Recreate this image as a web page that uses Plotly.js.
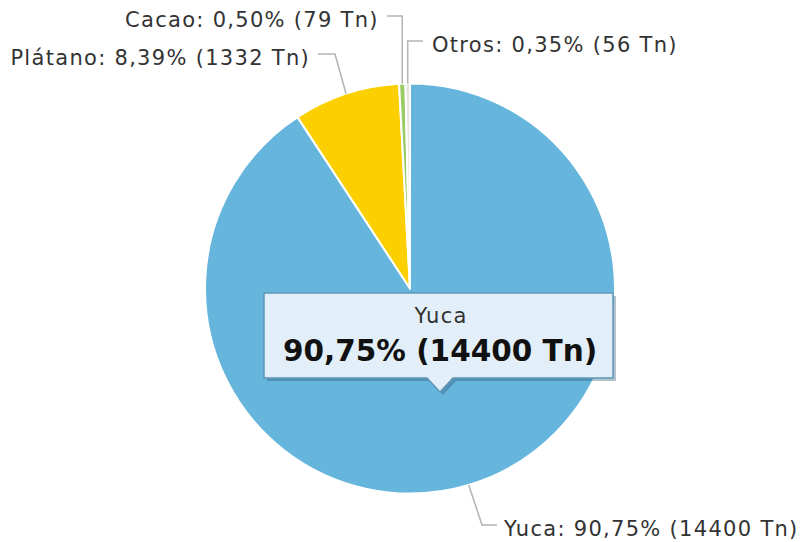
<!DOCTYPE html>
<html>
<head>
<meta charset="utf-8">
<script src="https://cdn.plot.ly/plotly-3.0.1.min.js"></script>
<style>
html,body{margin:0;padding:0;background:#fff;}
#chart{width:800px;height:542px;}
.annotation[data-index="0"] text, .annotation[data-index="1"] text,
.annotation[data-index="2"] text, .annotation[data-index="3"] text,
.annotation[data-index="4"] text { letter-spacing: 1.3px; }
</style>
</head>
<body>
<div id="chart"></div>
<script>
// ---- data ----
const categories = ["Yuca", "Plátano", "Cacao", "Otros"];
const values = [14400, 1332, 79, 56];
const unit = "Tn";
const sliceColors = ["#66b5dc", "#fcd000", "#99cc66", "#e4e4e4"];
const tooltipCategory = "Yuca";

// ---- layout helpers ----
const W = 800, H = 542;
const CX = 410, CY = 288.5, R = 205;
const px = x => x / W;
const py = y => 1 - y / H;
const FONT = 'DejaVu Sans, Verdana, sans-serif';

const total = values.reduce((a, b) => a + b, 0);
const pctText = v => (v / total * 100).toFixed(2).replace('.', ',') + '%';
const labelText = i => categories[i] + ': ' + pctText(values[i]) + ' (' + values[i] + ' ' + unit + ')';

// anchor point on pie edge at the slice mid-angle (clockwise from top)
let cum = 0;
const anchors = values.map(v => {
  const mid = (cum + v / 2) / total * 2 * Math.PI;
  cum += v;
  return [CX + R * Math.sin(mid), CY - R * Math.cos(mid)];
});

// label placement: elbow, line end, text position, anchor side
const placement = [
  {elbow: [482, 525], end: [497, 525], tx: 516, ty: 529, side: 'left'},
  {elbow: [335, 54], end: [318, 54], tx: 296, ty: 58, side: 'right'},
  {elbow: null, endY: 16, end: [387, 16], tx: 368, ty: 20, side: 'right'},
  {elbow: null, endY: 41, end: [423, 41], tx: 443, ty: 45, side: 'left'}
];

const shapes = [];
const annotations = [];
placement.forEach((p, i) => {
  const a = anchors[i];
  const el = p.elbow ? p.elbow : [a[0], p.endY];
  const path = 'M' + px(a[0]) + ',' + py(a[1]) + ' L' + px(el[0]) + ',' + py(el[1]) + ' L' + px(p.end[0]) + ',' + py(p.end[1]);
  shapes.push({type: 'path', xref: 'paper', yref: 'paper', path: path,
    line: {color: '#b4b4b4', width: 1.5}});
  annotations.push({xref: 'paper', yref: 'paper', x: px(p.tx), y: py(p.ty),
    xanchor: p.side, yanchor: 'middle', showarrow: false, text: labelText(i),
    font: {family: FONT, size: 21, color: '#333333'}});
});

// tooltip box with pointer
const bx0 = 264, bx1 = 613, by0 = 293, by1 = 378, tipX = 440, tipY = 392, tipW = 13;
function boxPath(dx, dy) {
  const pts = [[bx0, by0], [bx1, by0], [bx1, by1], [tipX + tipW, by1], [tipX, tipY], [tipX - tipW, by1], [bx0, by1]];
  return 'M' + pts.map(q => px(q[0] + dx) + ',' + py(q[1] + dy)).join(' L') + ' Z';
}
shapes.push({type: 'path', xref: 'paper', yref: 'paper', path: boxPath(3, 3),
  fillcolor: 'rgba(40,80,110,0.35)', line: {width: 0}});
shapes.push({type: 'path', xref: 'paper', yref: 'paper', path: boxPath(0, 0),
  fillcolor: '#e2eff8', line: {color: '#5f96b8', width: 1.5}});

const ti = categories.indexOf(tooltipCategory);
annotations.push({xref: 'paper', yref: 'paper', x: px(440), y: py(316), xanchor: 'center', yanchor: 'middle',
  showarrow: false, text: categories[ti], font: {family: FONT, size: 21, color: '#333333'}});
annotations.push({xref: 'paper', yref: 'paper', x: px(440), y: py(351), xanchor: 'center', yanchor: 'middle',
  showarrow: false, text: '<b>' + pctText(values[ti]) + ' (' + values[ti] + ' ' + unit + ')</b>',
  font: {family: FONT, size: 29.5, color: '#111111'}});

const trace = {
  type: 'pie',
  labels: categories,
  values: values,
  sort: false,
  direction: 'clockwise',
  rotation: 0,
  textinfo: 'none',
  hoverinfo: 'none',
  marker: {colors: sliceColors, line: {color: '#ffffff', width: 2}},
  domain: {x: [px(CX - R), px(CX + R)], y: [py(CY + R), py(CY - R)]},
  showlegend: false
};

const layout = {
  width: W, height: H,
  margin: {l: 0, r: 0, t: 0, b: 0},
  paper_bgcolor: '#ffffff',
  showlegend: false,
  shapes: shapes,
  annotations: annotations
};

Plotly.newPlot('chart', [trace], layout, {displayModeBar: false, staticPlot: true});
</script>
</body>
</html>
